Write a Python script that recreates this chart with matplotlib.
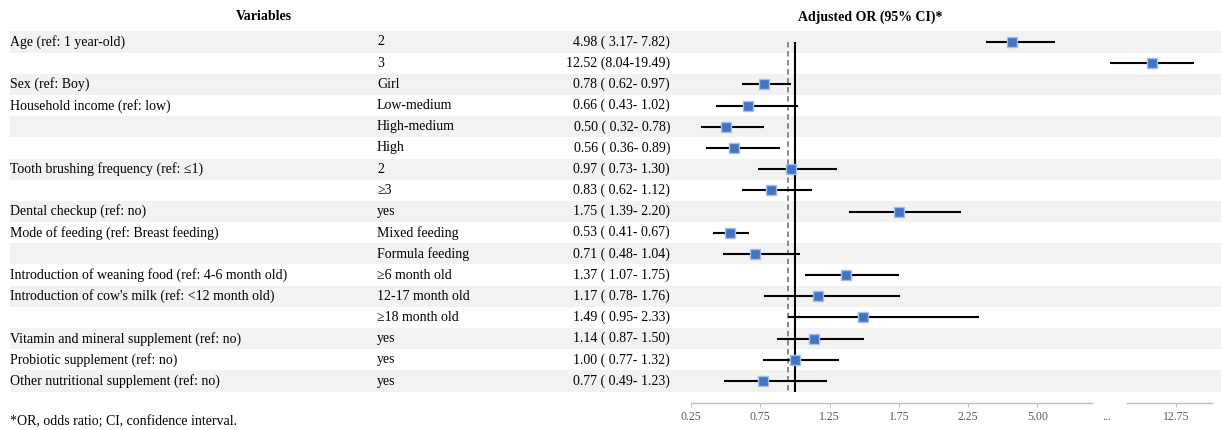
import numpy as np
import matplotlib
matplotlib.use("Agg")
import matplotlib.pyplot as plt

plt.rcParams["font.family"] = ["Liberation Serif", "DejaVu Serif"]
plt.rcParams["font.size"] = 10

variables = [
    "Age (ref: 1 year-old)", "", "Sex (ref: Boy)", "Household income (ref: low)", "", "",
    "Tooth brushing frequency (ref: \u22641)", "", "Dental checkup (ref: no)",
    "Mode of feeding (ref: Breast feeding)", "",
    "Introduction of weaning food (ref: 4-6 month old)",
    "Introduction of cow's milk (ref: <12 month old)", "",
    "Vitamin and mineral supplement (ref: no)", "Probiotic supplement (ref: no)",
    "Other nutritional supplement (ref: no)",
]
levels = [
    "2", "3", "Girl", "Low-medium", "High-medium", "High", "2", "\u22653", "yes",
    "Mixed feeding", "Formula feeding", "\u22656 month old", "12-17 month old",
    "\u226518 month old", "yes", "yes", "yes",
]
odds = [4.98, 12.52, 0.78, 0.66, 0.50, 0.56, 0.97, 0.83, 1.75, 0.53, 0.71, 1.37, 1.17, 1.49, 1.14, 1.00, 0.77]
ci_lo = [3.17, 8.04, 0.62, 0.43, 0.32, 0.36, 0.73, 0.62, 1.39, 0.41, 0.48, 1.07, 0.78, 0.95, 0.87, 0.77, 0.49]
ci_hi = [7.82, 19.49, 0.97, 1.02, 0.78, 0.89, 1.30, 1.12, 2.20, 0.67, 1.04, 1.75, 1.76, 2.33, 1.50, 1.32, 1.23]
tick_vals = [0.25, 0.75, 1.25, 1.75, 2.25]
tick_labels = ["0.25", "0.75", "1.25", "1.75", "2.25", "5.00", "...", "12.75"]

W, H = 1221, 430
rows = np.arange(len(odds))


def row(px):
    # pixel row (from top) -> row index
    return (px - 42) / 21.19


# broken OR scale: linear up to ~2.3, squeezed to 8, then log after the break
pk = [656.4, 691, 980.5, 983, 1056.3, 1109.6]
xk = [0.0, 0.25, 2.34, 3.0, 7.95, 8.0]


def fwd(x):
    x = np.asarray(x, float)
    px = np.where(x > 8, 1109.6 + 95 * np.log(np.maximum(x, 1e-9) / 8), np.interp(x, xk, pk))
    return (px - 691) / 69.25


def inv(u):
    px = 691 + 69.25 * np.asarray(u, float)
    return np.where(px > 1109.6, 8 * np.exp((px - 1109.6) / 95), np.interp(px, pk, xk))


fig = plt.figure(figsize=(W / 100, H / 100), dpi=100)

bg = fig.add_axes([0, 0, 1, 1])
bg.set_xlim(0, W)
bg.set_ylim(row(H), row(0))
bg.axis("off")
for i in rows[::2]:
    bg.axhspan(i - 0.5, i + 0.5, xmin=10 / W, xmax=1, color="#f2f2f2", lw=0)

bg.text(264, row(17), "Variables", ha="center", va="center", weight="bold")
bg.text(870, row(17), "Adjusted OR (95% CI)*", ha="center", va="center", weight="bold")
for i in rows:
    bg.text(10, i, variables[i], ha="left", va="center")
    bg.text(377, i, levels[i], ha="left", va="center")
    s = f"{odds[i]:.2f} ({ci_lo[i]:5.2f}-{ci_hi[i]:5.2f})"
    if odds[i] >= 10:
        s = s.replace("( ", "(")
    bg.text(670, i, s, ha="right", va="center")
bg.text(10, row(421), "*OR, odds ratio; CI, confidence interval.", ha="left", va="center")

ax = fig.add_axes([691 / W, (H - 403) / H, (1212 - 691) / W, 403 / H])
ax.set_xscale("function", functions=(fwd, inv))
ax.set_ylim(row(403), row(0))
ax.set_xlim(0.25, float(inv(7.52)))
ax.patch.set_visible(False)
for sp in ax.spines.values():
    sp.set_visible(False)

ax.hlines(rows, ci_lo, ci_hi, color="black", lw=1.5, zorder=2)
ax.vlines(0.95, 0, 16.5, colors="#808080", linestyles=(0, (3, 2)), lw=1.3, zorder=1)
ax.vlines(1.0, 0, 16.5, colors="black", lw=1.5, zorder=1)
ax.plot(odds, rows, "s", ms=6.5, mfc="#4472C4", mec="#9DC3E6", mew=1, ls="none", zorder=3)

# x axis with a gap before the last tick
xt = ax.get_xaxis_transform()
ax.plot([0.25, float(inv(5.79))], [0, 0], color="#bfbfbf", lw=1, transform=xt, clip_on=False)
ax.plot([float(inv(6.30)), float(inv(7.52))], [0, 0], color="#bfbfbf", lw=1, transform=xt, clip_on=False)
ax.set_xticks(tick_vals + [float(v) for v in inv([5, 6, 7])])
ax.set_xticklabels(tick_labels)
ax.minorticks_off()
ax.set_yticks([])
ax.tick_params(axis="x", length=3, color="#bfbfbf", labelcolor="#595959", labelsize=8.5, pad=3)
ax.xaxis.get_major_ticks()[6].tick1line.set_visible(False)

fig.savefig("out.png", dpi=100)
